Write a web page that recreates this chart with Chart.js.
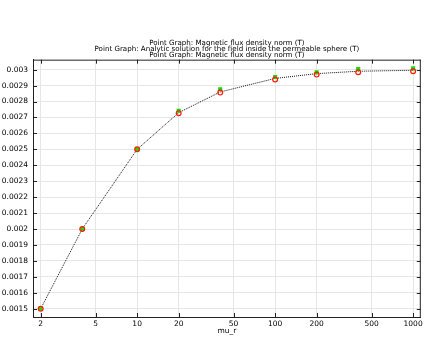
<!DOCTYPE html>
<html>
<head>
<meta charset="utf-8">
<script src="https://cdn.jsdelivr.net/npm/chart.js@4.4.1/dist/chart.umd.min.js"></script>
<style>
  html, body { margin: 0; padding: 0; background: #fff; }
  #wrap { width: 426px; height: 337px; }
</style>
</head>
<body>
<div id="wrap"><canvas id="chart" width="426" height="337"></canvas></div>
<script>
// values
const muR = [2, 4, 10, 20, 40, 100, 200, 400, 1000];
const normB = [0.0015, 0.002, 0.0025, 0.002742, 0.002877, 0.002954, 0.002983, 0.003004, 0.003008];
const analyticB = [0.0015, 0.002, 0.0025, 0.002727, 0.002856, 0.002938, 0.002969, 0.002984, 0.00299];
const normLineB = [0.0015, 0.002, 0.0025, 0.00273, 0.00286, 0.002945, 0.002975, 0.00299, 0.002996];

const xTicks = [2, 5, 10, 20, 50, 100, 200, 500, 1000];
const yTicks = [0.0015, 0.0016, 0.0017, 0.0018, 0.0019, 0.002, 0.0021, 0.0022, 0.0023, 0.0024,
  0.0025, 0.0026, 0.0027, 0.0028, 0.0029, 0.003];

const titleLines = [
  'Point Graph: Magnetic flux density norm (T)',
  'Point Graph: Analytic solution for the field inside the permeable sphere (T)',
  'Point Graph: Magnetic flux density norm (T)'
];

const toPoints = ys => muR.map((x, i) => ({ x: x, y: ys[i] }));

// ticks pointing inward on all four sides + top/right frame
const frame = {
  id: 'frame',
  afterDraw(chart) {
    const { ctx, chartArea: a, scales } = chart;
    ctx.save();
    ctx.strokeStyle = '#222';
    ctx.lineWidth = 1;
    ctx.beginPath();
    ctx.moveTo(a.left, a.top + 0.5);
    ctx.lineTo(a.right, a.top + 0.5);
    ctx.moveTo(a.right - 0.5, a.top);
    ctx.lineTo(a.right - 0.5, a.bottom);
    scales.x.ticks.forEach(t => {
      const px = Math.round(scales.x.getPixelForValue(t.value)) + 0.5;
      ctx.moveTo(px, a.bottom); ctx.lineTo(px, a.bottom - 4);
      ctx.moveTo(px, a.top); ctx.lineTo(px, a.top + 4);
    });
    scales.y.ticks.forEach(t => {
      const py = Math.round(scales.y.getPixelForValue(t.value)) + 0.5;
      ctx.moveTo(a.left, py); ctx.lineTo(a.left + 4, py);
      ctx.moveTo(a.right, py); ctx.lineTo(a.right - 4, py);
    });
    ctx.stroke();
    ctx.restore();
  }
};

Chart.defaults.font.family = '"DejaVu Sans", sans-serif';
Chart.defaults.font.size = 7.5;
Chart.defaults.color = '#000';

new Chart(document.getElementById('chart'), {
  type: 'line',
  data: {
    datasets: [
      {
        label: titleLines[2],
        data: toPoints(normLineB),
        borderColor: '#111',
        borderWidth: 1,
        borderDash: [1, 1],
        pointRadius: 0,
        fill: false,
        order: 3
      },
      {
        label: titleLines[0],
        data: toPoints(normB),
        showLine: false,
        pointStyle: 'rect',
        pointRadius: 2.9,
        pointBackgroundColor: '#10e000',
        pointBorderColor: '#10e000',
        pointBorderWidth: 0,
        order: 2
      },
      {
        label: titleLines[1],
        data: toPoints(analyticB),
        showLine: false,
        pointStyle: 'circle',
        pointRadius: 2.4,
        pointBackgroundColor: 'rgba(0,0,0,0)',
        pointBorderColor: '#ff1a0a',
        pointBorderWidth: 1.2,
        order: 1
      }
    ]
  },
  options: {
    responsive: false,
    animation: false,
    layout: { padding: { left: 0, right: 5, top: 0, bottom: 0 } },
    plugins: {
      legend: { display: false },
      tooltip: { enabled: false },
      title: {
        display: true,
        text: titleLines,
        fullSize: false,
        font: { size: 7.1, weight: 'normal', lineHeight: 0.9 },
        padding: { top: 39.5, bottom: 1 }
      }
    },
    scales: {
      x: {
        type: 'logarithmic',
        min: 1.759,
        max: 1137,
        afterBuildTicks: s => { s.ticks = xTicks.map(v => ({ value: v })); },
        afterFit: s => { s.height = 20; },
        ticks: {
          autoSkip: false,
          maxRotation: 0,
          padding: 3,
          callback: v => String(v)
        },
        grid: { color: '#e6e6e6', drawTicks: false },
        border: { color: '#222' },
        title: { display: true, text: 'mu_r', font: { size: 7.5 }, padding: { top: 0, bottom: 1 } }
      },
      y: {
        type: 'linear',
        min: 0.001448,
        max: 0.0030626,
        afterBuildTicks: s => { s.ticks = yTicks.map(v => ({ value: v })); },
        afterFit: s => { s.width = 33; },
        ticks: {
          autoSkip: false,
          padding: 5,
          callback: v => String(Number(v.toFixed(4)))
        },
        grid: { color: '#e6e6e6', drawTicks: false },
        border: { color: '#222' }
      }
    }
  },
  plugins: [frame]
});
</script>
</body>
</html>
